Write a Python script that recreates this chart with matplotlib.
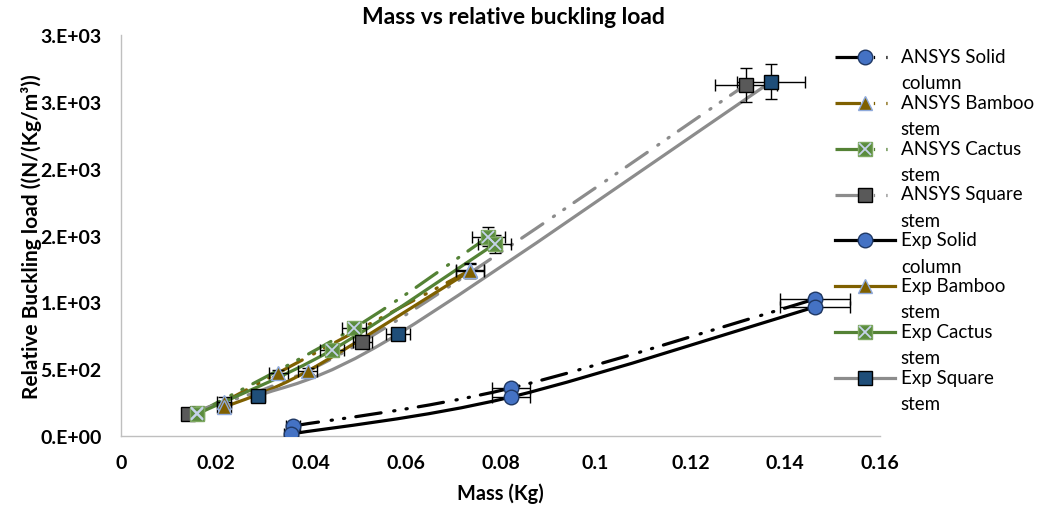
import numpy as np
import matplotlib
matplotlib.use('Agg')
import matplotlib.pyplot as plt
from matplotlib.path import Path
from matplotlib.patches import PathPatch
from matplotlib.lines import Line2D
from matplotlib.legend_handler import HandlerLine2D, HandlerTuple

plt.rcParams['font.family'] = ['Lato', 'DejaVu Sans']

# ---------------- data ----------------
ansys_solid_x = [0.0363, 0.0822, 0.1463]
ansys_solid_y = [75, 359, 1025]
exp_solid_x = [0.0358, 0.0822, 0.1463]
exp_solid_y = [15, 292, 966]

ansys_bamboo_x = [0.0217, 0.0331, 0.0736]
ansys_bamboo_y = [255, 472, 1240]
exp_bamboo_x = [0.0217, 0.0394, 0.0736]
exp_bamboo_y = [215, 487, 1235]

ansys_cactus_x = [0.0160, 0.0491, 0.0774]
ansys_cactus_y = [170, 808, 1490]
exp_cactus_x = [0.0160, 0.0445, 0.0788]
exp_cactus_y = [165, 644, 1437]

ansys_square_x = [0.0141, 0.0508, 0.1317]
ansys_square_y = [165, 704, 2627]
exp_square_x = [0.0289, 0.0584, 0.1370]
exp_square_y = [299, 763, 2650]

# error bar half-widths
solid_xerr = [0.0015, 0.0040, 0.0073]
solid_yerr = [10, 30, 35]
bamboo_xerr = [0.0015, 0.0020, 0.0030]
bamboo_yerr = [40, 25, 55]
cactus_xerr = [0.0012, 0.0025, 0.0035]
cactus_yerr = [20, 30, 70]
ansys_square_xerr = [0.0010, 0.0020, 0.0065]
ansys_square_yerr = [20, 30, 125]
exp_square_xerr = [0.0015, 0.0026, 0.0072]
exp_square_yerr = [20, 30, 130]

x_ticks = [0, 0.02, 0.04, 0.06, 0.08, 0.10, 0.12, 0.14, 0.16]
x_tick_labels = ['0', '0.02', '0.04', '0.06', '0.08', '0.1', '0.12', '0.14', '0.16']
y_ticks = [0, 500, 1000, 1500, 2000, 2500, 3000]
y_tick_labels = ['0.E+00', '5.E+02', '1.E+03', '2.E+03', '2.E+03', '3.E+03', '3.E+03']

labels = ['ANSYS Solid\ncolumn', 'ANSYS Bamboo\nstem', 'ANSYS Cactus\nstem', 'ANSYS Square\nstem',
          'Exp Solid\ncolumn', 'Exp Bamboo\nstem', 'Exp Cactus\nstem', 'Exp Square\nstem']

# ---------------- styles ----------------
BLACK = '#000000'
BROWN = '#7F6000'
GREEN = '#548235'
GRAY = '#8C8C8C'
LW = 2.3
DASH = (0, (8, 4, 0.4, 3.5, 0.4, 3.5))

fig = plt.figure(figsize=(10.45, 5.10), dpi=100)
ax = fig.add_axes([0.1158, 0.1431, 0.7264, 0.7863])
ax.set_xlim(0, 0.16)
ax.set_ylim(0, 3000)


def smooth_path(x, y):
    pts = np.column_stack([x, y]).astype(float)
    n = len(pts)
    verts = [pts[0]]
    codes = [Path.MOVETO]
    for i in range(n - 1):
        p0 = pts[i - 1] if i > 0 else pts[i]
        p1 = pts[i]
        p2 = pts[i + 1]
        p3 = pts[i + 2] if i + 2 < n else pts[i + 1]
        verts += [p1 + (p2 - p0) / 6.0, p2 - (p3 - p1) / 6.0, p2]
        codes += [Path.CURVE4] * 3
    return Path(verts, codes)


def curve(x, y, color, ls, z):
    patch = PathPatch(smooth_path(x, y), facecolor='none', edgecolor=color,
                      linewidth=LW, linestyle=ls, zorder=z, capstyle='round',
                      joinstyle='round')
    ax.add_patch(patch)


series = [
    (ansys_solid_x, ansys_solid_y, BLACK, DASH,
     dict(marker='o', ms=10.5, mfc='#4472C4', mec='#1F3864', mew=1.0), solid_xerr, solid_yerr),
    (ansys_bamboo_x, ansys_bamboo_y, BROWN, DASH,
     dict(marker='^', ms=10.5, mfc=BROWN, mec='#8FAADC', mew=1.0), bamboo_xerr, bamboo_yerr),
    (ansys_cactus_x, ansys_cactus_y, GREEN, DASH,
     dict(marker='s', ms=10.5, mfc='#5B8C3E', mec='#7DA860', mew=1.0), cactus_xerr, cactus_yerr),
    (ansys_square_x, ansys_square_y, GRAY, DASH,
     dict(marker='s', ms=10.5, mfc='#595959', mec='#000000', mew=1.0), ansys_square_xerr, ansys_square_yerr),
    (exp_solid_x, exp_solid_y, BLACK, '-',
     dict(marker='o', ms=10.5, mfc='#4472C4', mec='#1F3864', mew=1.0), solid_xerr, solid_yerr),
    (exp_bamboo_x, exp_bamboo_y, BROWN, '-',
     dict(marker='^', ms=10.5, mfc=BROWN, mec='#8FAADC', mew=1.0), bamboo_xerr, bamboo_yerr),
    (exp_cactus_x, exp_cactus_y, GREEN, '-',
     dict(marker='s', ms=10.5, mfc='#5B8C3E', mec='#7DA860', mew=1.0), cactus_xerr, cactus_yerr),
    (exp_square_x, exp_square_y, GRAY, '-',
     dict(marker='s', ms=10.5, mfc='#1F4E79', mec='#000000', mew=1.0), exp_square_xerr, exp_square_yerr),
]

handles = []
for i, (x, y, c, ls, mk, xe, ye) in enumerate(series):
    curve(x, y, c, ls, 2 + i * 0.01)
    ax.errorbar(x, y, xerr=xe, yerr=ye, fmt='none', ecolor='black',
                elinewidth=1.0, capsize=4, capthick=1.0, zorder=4)
    ax.plot(x, y, linestyle='none', zorder=5, **mk)
    h = Line2D([], [], color=c, lw=LW, linestyle=ls, **mk)
    if mk['mfc'] == '#5B8C3E':
        ax.plot(x, y, linestyle='none', marker='x', ms=8, mec='#C5D3EA', mew=1.3, zorder=6)
        hx = Line2D([], [], linestyle='none', marker='x', ms=8, mec='#C5D3EA', mew=1.3)
        h = (h, hx)
    handles.append(h)

# ---------------- axes styling ----------------
for s in ['top', 'right']:
    ax.spines[s].set_visible(False)
for s in ['left', 'bottom']:
    ax.spines[s].set_color('#BFBFBF')
    ax.spines[s].set_linewidth(1.0)

ax.set_xticks(x_ticks)
ax.set_xticklabels(x_tick_labels, fontsize=14, fontweight='bold')
ax.set_yticks(y_ticks)
ax.set_yticklabels(y_tick_labels, fontsize=14, fontweight='bold')
ax.tick_params(axis='both', length=0)
ax.tick_params(axis='y', pad=14)
ax.tick_params(axis='x', pad=13)

ax.set_xlabel('Mass (Kg)', fontsize=14.4, fontweight='bold', labelpad=8)
ax.set_ylabel('Relative Buckling load ((N/(Kg/m\u00b3))', fontsize=15, fontweight='bold', labelpad=-1)
fig.text(0.491, 0.965, 'Mass vs relative buckling load', ha='center', va='center',
         fontsize=16.5, fontweight='bold')


class ShiftedLine2D(HandlerLine2D):
    def __init__(self, shift=0.0, **kw):
        super().__init__(**kw)
        self.shift = shift

    def create_artists(self, legend, orig_handle, xdescent, ydescent,
                       width, height, fontsize, trans):
        return super().create_artists(legend, orig_handle, xdescent,
                                      ydescent - 2 * self.shift, width, height,
                                      fontsize, trans)


leg = fig.legend(handles, labels, loc='upper left', bbox_to_anchor=(0.792, 0.919),
                 frameon=False, fontsize=13.5, handlelength=3.2, handletextpad=0.3,
                 labelspacing=0.14, borderaxespad=0,
                 handler_map={Line2D: ShiftedLine2D(shift=9.3),
                              tuple: HandlerTuple(ndivide=1)})
for t in leg.get_texts():
    t.set_linespacing(1.66)

fig.savefig('out.png', dpi=100)
